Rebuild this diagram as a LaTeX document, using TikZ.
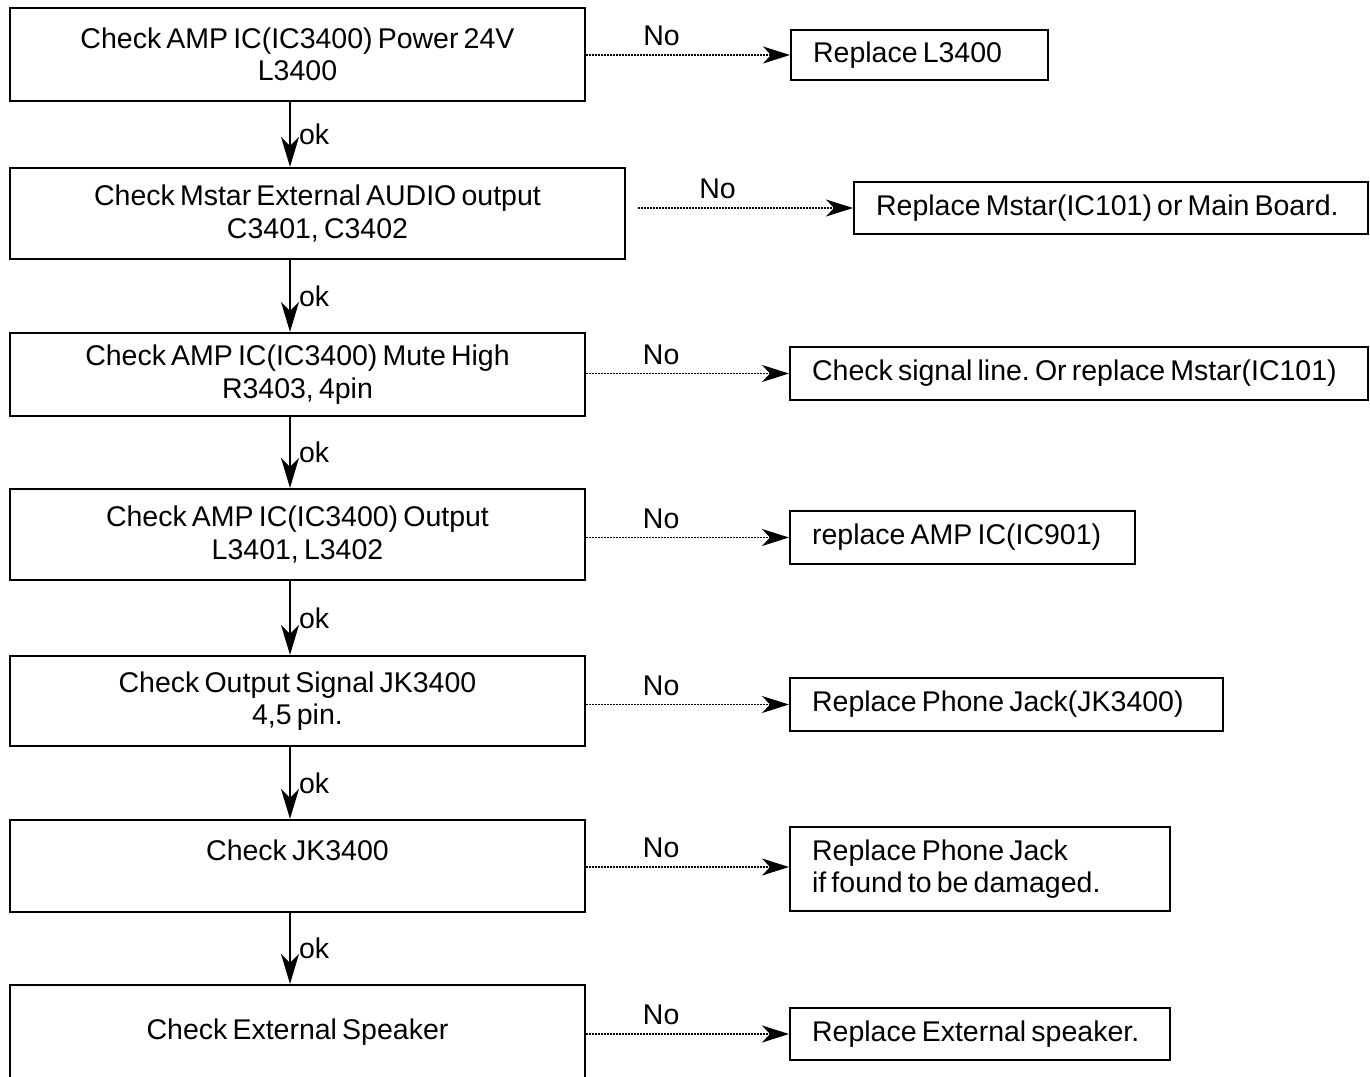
\documentclass[tikz,border=0pt]{standalone}
\usepackage{fontspec}
\setmainfont{Liberation Sans}[WordSpace=0.65]
\usetikzlibrary{arrows.meta,calc}
\newcommand\zsp{\spaceskip=0pt\xspaceskip=0pt\relax}
\begin{document}
\frenchspacing
\begin{tikzpicture}[x=1pt,y=-1pt,
  every node/.style={font=\fontsize{28.5}{32.5}\selectfont},
  lbox/.style={draw,line width=2.2pt,inner sep=0pt,minimum width=575pt,align=center},
  rbox/.style={draw,line width=2.2pt,anchor=west,inner xsep=22pt,inner ysep=0pt,align=left},
  down/.style={line width=2pt,-{Stealth[length=30pt,width=18pt,inset=9pt]}},
  no/.style={line width=1.6pt,dash pattern=on 1.6pt off 1.4pt,-{Stealth[length=27pt,width=17pt,inset=8pt]}},
  oklab/.style={midway,anchor=west,xshift=7pt,inner sep=1pt},
  nolab/.style={pos=0.37,anchor=south,yshift=6pt,inner sep=2pt}]
\fill[white] (0,0) rectangle (1370,1076);
\useasboundingbox (0,0) rectangle (1370,1076);
% left column
\node[lbox,minimum height=93pt] (B1) at (297.5,54.5) {Check AMP IC(IC3400) Power 24V\\L3400};
\node[lbox,minimum width=615pt,minimum height=91pt] (B2) at (317.5,213.5) {Check Mstar External AUDIO output\\C3401, C3402};
\node[lbox,minimum height=83pt] (B3) at (297.5,374.5) {Check AMP IC(IC3400) Mute High\\R3403, 4pin};
\node[lbox,minimum height=91pt] (B4) at (297.5,534.5) {Check AMP IC(IC3400) Output\\L3401, L3402};
\node[lbox,minimum height=90pt] (B5) at (297.5,701) {Check Output Signal JK3400\\4,5 pin.};
\node[lbox,minimum height=92pt] (B6) at (297.5,866) {Check JK3400\\~};
\node[lbox,minimum height=94pt] (B7) at (297.5,1032) {Check External Speaker};
% right column
\node[rbox,text width=213pt,minimum height=50pt] (R1) at (790,55) {\zsp\mbox{Replace L3400}};
\node[rbox,text width=470pt,minimum height=52pt] (R2) at (853,208) {\zsp\mbox{Replace Mstar(IC101) or Main Board.}};
\node[rbox,text width=534pt,minimum height=53pt] (R3) at (789,373.5) {\zsp\mbox{Check signal line. Or replace Mstar(IC101)}};
\node[rbox,text width=301pt,minimum height=53pt] (R4) at (789,537.5) {\zsp\mbox{replace AMP IC(IC901)}};
\node[rbox,text width=389pt,minimum height=53pt] (R5) at (789,704.5) {\zsp\mbox{Replace Phone Jack(JK3400)}};
\node[rbox,text width=336pt,minimum height=84pt] (R6) at (789,869) {\zsp Replace Phone Jack\\\zsp if found to be damaged.};
\node[rbox,text width=336pt,minimum height=52pt] (R7) at (789,1034) {\zsp\mbox{Replace External speaker.}};
% down arrows
\coordinate (a1) at ([xshift=-7.5pt]B1.south);
\coordinate (a2) at ($(B2.south)+(-27.5,0)$);
\coordinate (a3) at ([xshift=-7.5pt]B3.south);
\coordinate (a4) at ([xshift=-7.5pt]B4.south);
\coordinate (a5) at ([xshift=-7.5pt]B5.south);
\coordinate (a6) at ([xshift=-7.5pt]B6.south);
\draw[down] (a1) -- (a1 |- B2.north) node[oklab] {ok};
\draw[down] (a2) -- (a2 |- B3.north) node[oklab] {ok};
\draw[down] (a3) -- (a3 |- B4.north) node[oklab] {ok};
\draw[down] (a4) -- (a4 |- B5.north) node[oklab] {ok};
\draw[down] (a5) -- (a5 |- B6.north) node[oklab] {ok};
\draw[down] (a6) -- (a6 |- B7.north) node[oklab] {ok};
% No arrows
\draw[no] (B1.east |- R1.west) -- (R1.west) node[nolab] {No};
\draw[no] ($(B2.east |- R2.west)+(12,0)$) -- (R2.west) node[nolab] {No};
\draw[no] (B3.east |- R3.west) -- (R3.west) node[nolab] {No};
\draw[no] (B4.east |- R4.west) -- (R4.west) node[nolab] {No};
\draw[no] (B5.east |- R5.west) -- (R5.west) node[nolab] {No};
\draw[no] (B6.east |- 0,867) -- (R6.west |- 0,867) node[nolab] {No};
\draw[no] (B7.east |- R7.west) -- (R7.west) node[nolab] {No};
\end{tikzpicture}
\end{document}
